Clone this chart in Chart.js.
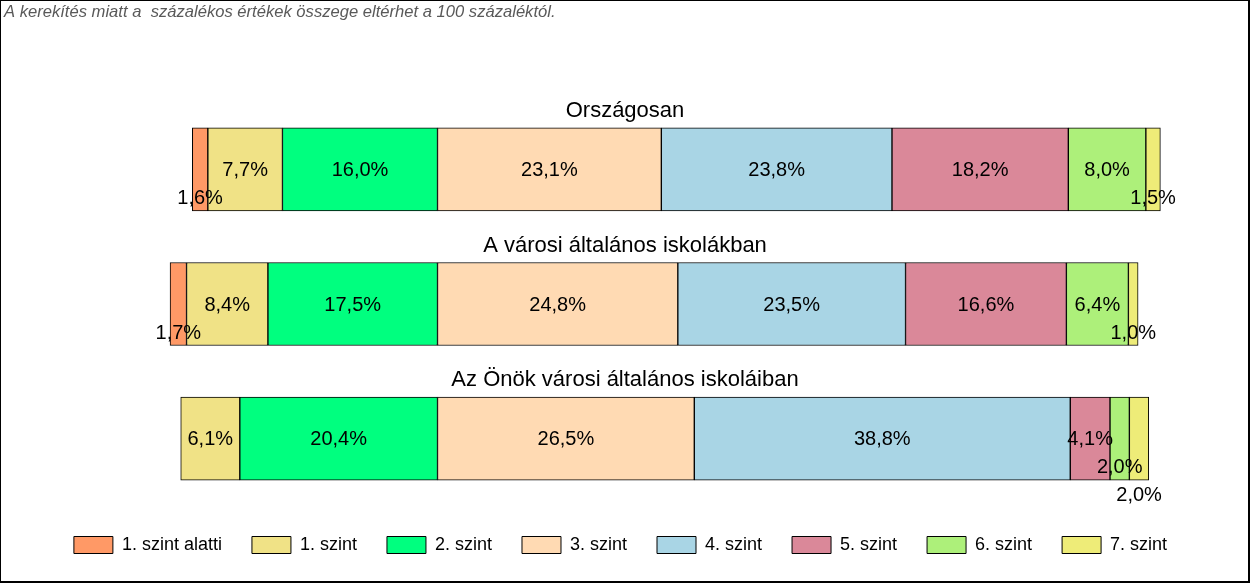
<!DOCTYPE html>
<html>
<head>
<meta charset="utf-8">
<script src="https://cdn.jsdelivr.net/npm/chart.js"></script>
<style>
  body { margin: 0; background: #fff; }
  canvas { position: absolute; left: 0; top: 0; }
  #frame {
    position: absolute; left: 0; top: 0; width: 1250px; height: 583px;
    box-sizing: border-box; border: 1px solid #000;
    border-right-width: 2px; border-bottom-width: 2px; pointer-events: none;
  }
</style>
</head>
<body>
<canvas id="chart" width="1250" height="583"></canvas>
<div id="frame"></div>
<script>
// Data
const note = "A kerekítés miatt a  százalékos értékek összege eltérhet a 100 százaléktól.";
const categories = ["Országosan", "A városi általános iskolákban", "Az Önök városi általános iskoláiban"];
const levelNames = ["1. szint alatti", "1. szint", "2. szint", "3. szint", "4. szint", "5. szint", "6. szint", "7. szint"];
const levelColors = ["#FF9966", "#F0E286", "#00FF7F", "#FFDAB3", "#A9D5E5", "#DA8899", "#ADF07A", "#EEEC78"];

const belowLevel1 = [1.6, 1.7, 0];
const level1 = [7.7, 8.4, 6.1];
const level2 = [16.0, 17.5, 20.4];
const level3 = [23.1, 24.8, 26.5];
const level4 = [23.8, 23.5, 38.8];
const level5 = [18.2, 16.6, 4.1];
const level6 = [8.0, 6.4, 2.0];
const level7 = [1.5, 1.0, 2.0];

const series = [belowLevel1, level1, level2, level3, level4, level5, level6, level7];
// levels under 3. szint go to the left of the zero line
const leftSide = [true, true, true, false, false, false, false, false];
// stacking order: 2. szint next to zero, then 1. szint, then below 1
const stackOrder = [2, 1, 0, 3, 4, 5, 6, 7];

const FONT = "'Liberation Sans', Arial, sans-serif";

function fmt(v) {
  return v.toFixed(1).replace(".", ",") + "%";
}

const datasets = series.map((vals, k) => ({
  label: levelNames[k],
  data: vals.map(v => leftSide[k] ? -v : v),
  raw: vals,
  backgroundColor: levelColors[k],
  borderColor: "#000",
  borderWidth: 1,
  borderSkipped: false,
  barThickness: 83,
  order: stackOrder[k]
}));

// note at the top left + the title over each bar
const textPlugin = {
  id: "texts",
  afterDraw(chart) {
    const ctx = chart.ctx;
    ctx.save();
    ctx.font = "italic 16.6px " + FONT;
    ctx.fillStyle = "#595959";
    ctx.textAlign = "left";
    ctx.textBaseline = "top";
    ctx.fillText(note, 4, 4);

    ctx.font = "22px " + FONT;
    ctx.fillStyle = "#000";
    ctx.textAlign = "center";
    ctx.textBaseline = "alphabetic";
    const meta = chart.getDatasetMeta(3);
    categories.forEach((c, i) => {
      const bar = meta.data[i];
      ctx.fillText(c, 625, bar.y - bar.height / 2 - 11);
    });
    ctx.restore();
  }
};

// value labels, small segments pushed downward
const labelPlugin = {
  id: "values",
  afterDatasetsDraw(chart) {
    const ctx = chart.ctx;
    ctx.save();
    ctx.font = "20px " + FONT;
    ctx.fillStyle = "#000";
    ctx.textAlign = "center";
    ctx.textBaseline = "middle";
    categories.forEach((c, i) => {
      let prev = null;
      datasets.forEach((ds, k) => {
        const v = ds.raw[i];
        if (!v) return;
        const bar = chart.getDatasetMeta(k).data[i];
        const cx = (bar.x + bar.base) / 2;
        const w = Math.abs(bar.x - bar.base);
        const txt = fmt(v);
        const tw = ctx.measureText(txt).width;
        let level = w < 30 ? 1 : 0;
        if (prev && prev.level === level && prev.right > cx - tw / 2) level++;
        ctx.fillText(txt, cx, bar.y + 1 + level * 28);
        prev = { level: level, right: cx + tw / 2 };
      });
    });
    ctx.restore();
  }
};

new Chart(document.getElementById("chart"), {
  type: "bar",
  data: { labels: categories, datasets: datasets },
  options: {
    indexAxis: "y",
    responsive: false,
    animation: false,
    events: [],
    layout: { padding: { top: 102, bottom: 19, left: 0, right: 9 } },
    scales: {
      x: { stacked: true, display: false, min: -45.15, max: 82.92 },
      y: { stacked: true, display: false }
    },
    plugins: {
      tooltip: { enabled: false },
      legend: {
        position: "bottom",
        labels: {
          boxWidth: 39,
          boxHeight: 17,
          padding: 30,
          color: "#000",
          font: { family: FONT, size: 18 },
          sort: (a, b) => a.datasetIndex - b.datasetIndex
        }
      }
    }
  },
  plugins: [textPlugin, labelPlugin]
});
</script>
</body>
</html>
